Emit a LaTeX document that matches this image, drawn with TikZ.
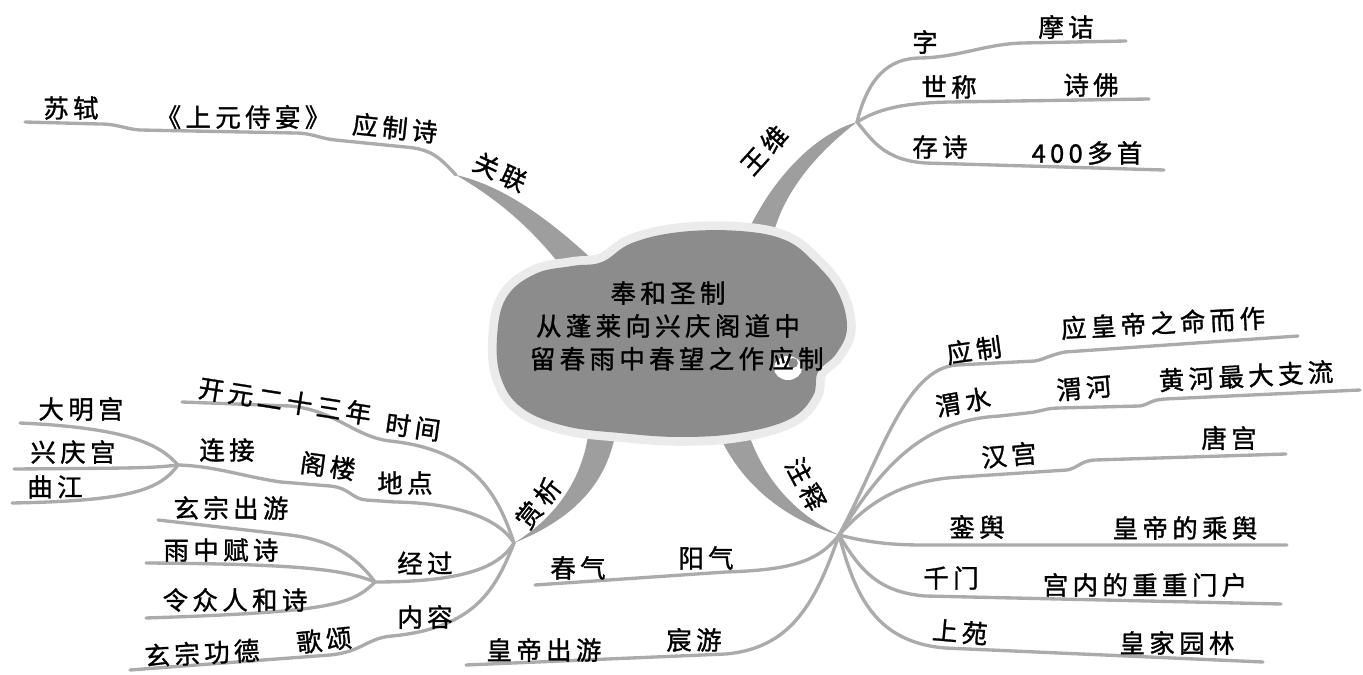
\documentclass[tikz,border=0pt]{standalone}
\usepackage{fontspec}
\newfontfamily\mapfont[LetterSpace=17, FakeBold=1.2]{Noto Sans CJK SC}
\usetikzlibrary{calc}

\begin{document}
\begin{tikzpicture}[x=0.02cm, y=-0.02cm, font={\mapfont\fontsize{14.5}{18.7}\selectfont}]

% =========================
% Colour Definitions
% =========================
\colorlet{cloudfill}{black!45}
\colorlet{cloudglow}{black!8}
\colorlet{trunkcol}{black!38}
\colorlet{twigcol}{black!33}

% =========================
% Styles
% =========================
\tikzset{
    trunk/.style={fill=trunkcol},
    twig/.style={draw=twigcol, line width=1.9pt, line cap=round},
    word/.style={inner sep=1pt, text=black}
}

\useasboundingbox (0,0) rectangle (1363,675);

% =========================
% Forks & Line Ends
% =========================
\coordinate (wfork) at (857,122);   % wang wei
\coordinate (gfork) at (456,175);   % guan lian
\coordinate (sfork) at (514,543);   % shang xi
\coordinate (zfork) at (839,535);   % zhu shi
\coordinate (lfork) at (178,465);   % lian jie
\coordinate (jfork) at (375,582);   % jing guo

\coordinate (zi-end) at (1126,41);
\coordinate (shi-end) at (1149,99);
\coordinate (cun-end) at (1164,170);
\coordinate (su-end) at (25,122);
\coordinate (kai-end) at (182,402);
\coordinate (da-end) at (20,423);
\coordinate (xing-end) at (14,469);
\coordinate (qu-end) at (12,503);
\coordinate (you-end) at (158,520);
\coordinate (fu-end) at (146,563);
\coordinate (he-end) at (146,618);
\coordinate (gong-end) at (130,670);
\coordinate (ming-end) at (1298,336);
\coordinate (liu-end) at (1360,390);
\coordinate (tang-end) at (1286,454);
\coordinate (yu-end) at (1287,545);
\coordinate (men-end) at (1281,604);
\coordinate (lin-end) at (1263,662);
\coordinate (chun-end) at (535,585);
\coordinate (huang-end) at (466,665);

% =========================
% Trunks (tapered)
% =========================
\fill[trunk] (740,250) .. controls (765,185) and (812,135) .. (wfork)
    .. controls (818,152) and (778,195) .. (770,250) -- cycle;
\fill[trunk] (gfork) .. controls (500,185) and (545,215) .. (595,262)
    -- (568,275) .. controls (530,225) and (495,198) .. (gfork) -- cycle;
\fill[trunk] (590,410) .. controls (590,470) and (560,515) .. (sfork)
    .. controls (575,518) and (615,480) .. (618,410) -- cycle;
\fill[trunk] (710,410) .. controls (730,480) and (785,520) .. (zfork)
    .. controls (790,512) and (755,470) .. (742,410) -- cycle;

% =========================
% Branch Lines
% =========================
% wang wei
\draw[twig] (wfork) .. controls (868,78) and (888,58) .. (921,58)
    .. controls (960,57) and (985,44) .. (1023,43) -- (zi-end);
\draw[twig] (wfork) .. controls (880,108) and (905,103) .. (950,102) -- (shi-end);
\draw[twig] (wfork) .. controls (872,140) and (884,160) .. (925,163) -- (cun-end);

% guan lian
\draw[twig] (gfork) .. controls (440,158) and (432,149) .. (405,147) -- (335,140)
    .. controls (318,138) and (312,133) .. (295,133) -- (140,130)
    .. controls (125,129) and (118,124) .. (100,124) -- (su-end);

% shang xi
\draw[twig] (sfork) .. controls (498,495) and (475,450) .. (390,441)
    .. controls (355,437) and (335,410) .. (290,406) -- (kai-end);
\draw[twig] (sfork) .. controls (500,520) and (460,503) .. (395,502) -- (366,500)
    .. controls (352,499) and (350,488) .. (330,486) -- (281,482)
    .. controls (245,477) and (215,466) .. (lfork);
\draw[twig] (lfork) .. controls (160,445) and (130,428) .. (da-end);
\draw[twig] (lfork) .. controls (150,468) .. (xing-end);
\draw[twig] (lfork) .. controls (160,490) and (130,501) .. (qu-end);
\draw[twig] (sfork) .. controls (500,565) and (470,582) .. (jfork);
\draw[twig] (jfork) .. controls (355,555) and (330,540) .. (290,535) -- (you-end);
\draw[twig] (jfork) .. controls (345,570) and (305,564) .. (fu-end);
\draw[twig] (jfork) .. controls (352,605) and (330,612) .. (he-end);
\draw[twig] (sfork) .. controls (496,588) and (476,628) .. (392,636)
    .. controls (367,638) and (362,652) .. (330,655) -- (gong-end);

% zhu shi
\draw[twig] (zfork) .. controls (880,460) and (905,368) .. (957,365) -- (1035,361)
    .. controls (1045,359) and (1050,355) .. (1065,352) -- (ming-end);
\draw[twig] (zfork) .. controls (880,470) and (920,420) .. (1000,416) -- (1027,413)
    .. controls (1040,412) and (1045,408) .. (1060,408) -- (1140,406)
    .. controls (1150,404) and (1150,400) .. (1165,399) -- (liu-end);
\draw[twig] (zfork) .. controls (870,500) and (905,480) .. (960,477) -- (1067,470)
    .. controls (1078,468) and (1080,461) .. (1095,460) -- (tang-end);
\draw[twig] (zfork) .. controls (870,543) and (895,545) .. (922,545) -- (yu-end);
\draw[twig] (zfork) .. controls (860,570) and (878,592) .. (925,596) -- (men-end);
\draw[twig] (zfork) .. controls (855,595) and (875,642) .. (945,648) -- (lin-end);
\draw[twig] (zfork) .. controls (818,562) and (790,570) .. (726,572) -- (chun-end);
\draw[twig] (zfork) .. controls (815,605) and (790,648) .. (726,654) -- (huang-end);

% =========================
% Cloud
% =========================
\def\cloudpath{plot[smooth cycle, tension=0.65] coordinates {
    (497,338) (506,298) (535,274) (572,266) (602,262) (632,243) (680,232)
    (740,231) (785,240) (814,262) (838,292) (847,328) (836,354) (818,372)
    (813,396) (790,419) (740,433) (680,437) (620,433) (565,426) (522,408)
    (501,378)}}
\draw[cloudglow, line width=10pt, line join=round] \cloudpath;
\fill[cloudfill] \cloudpath;
\fill[white] (788,368) ellipse[x radius=14, y radius=12];
\fill[cloudfill] (793,363) circle[radius=5];

\node[word, align=center] (title) at (668,326)
    {奉和圣制\\从蓬莱向兴庆阁道中\\\hspace{10pt}留春雨中春望之作应制};

% =========================
% Labels
% =========================
\node[word, rotate=48] (wangwei) at (764,150) {王维};
\node[word] (zi) at (925,42) {字};
\node[word] (mojie) at (1066,27) {摩诘};
\node[word] (shicheng) at (949,87) {世称};
\node[word] (shifo) at (1091,85) {诗佛};
\node[word] (cunshi) at (940,147) {存诗};
\node[word] (sibai) at (1087,153) {400多首};

\node[word, rotate=-25] (guanlian) at (500,172) {关联};
\node[word, rotate=-6] (yingzhishi) at (395,128) {应制诗};
\node[word] (shiyan) at (243,117) {《上元侍宴》};
\node[word] (sushi) at (71,108) {苏轼};

\node[word, rotate=52] (shangxi) at (538,503) {赏析};
\node[word, rotate=-8] (shijian) at (413,427) {时间};
\node[word, rotate=-9] (kaiyuan) at (285,401) {开元二十三年};
\node[word] (didian) at (405,483) {地点};
\node[word, rotate=-8] (gelou) at (328,466) {阁楼};
\node[word] (lianjie) at (227,450) {连接};
\node[word] (daming) at (81,409) {大明宫};
\node[word] (xingqing) at (73,452) {兴庆宫};
\node[word] (qujiang) at (55,487) {曲江};
\node[word] (jingguo) at (425,563) {经过};
\node[word] (chuyou) at (231,508) {玄宗出游};
\node[word] (fushi) at (221,550) {雨中赋诗};
\node[word] (heshi) at (235,600) {令众人和诗};
\node[word] (neirong) at (425,617) {内容};
\node[word, rotate=6] (gesong) at (324,640) {歌颂};
\node[word, rotate=3] (gongde) at (202,653) {玄宗功德};

\node[word, rotate=-62] (zhushi) at (806,484) {注释};
\node[word, rotate=8] (yingzhi) at (974,350) {应制};
\node[word, rotate=3] (mingzuo) at (1163,323) {应皇帝之命而作};
\node[word, rotate=10] (weishui) at (963,402) {渭水};
\node[word, rotate=5] (weihe) at (1084,388) {渭河};
\node[word, rotate=3] (zhiliu) at (1246,376) {黄河最大支流};
\node[word, rotate=5] (hangong) at (1009,455) {汉宫};
\node[word] (tanggong) at (1229,438) {唐宫};
\node[word] (luanyu) at (977,527) {銮舆};
\node[word] (chengyu) at (1185,528) {皇帝的乘舆};
\node[word] (qianmen) at (951,578) {千门};
\node[word] (menhu) at (1145,585) {宫内的重重门户};
\node[word, rotate=-5] (shangyuan) at (960,632) {上苑};
\node[word] (huangjia) at (1177,643) {皇家园林};
\node[word] (yangqi) at (706,558) {阳气};
\node[word] (chunqi) at (578,568) {春气};
\node[word] (chenyou) at (694,640) {宸游};
\node[word] (huangdi) at (544,650) {皇帝出游};

\end{tikzpicture}
\end{document}
